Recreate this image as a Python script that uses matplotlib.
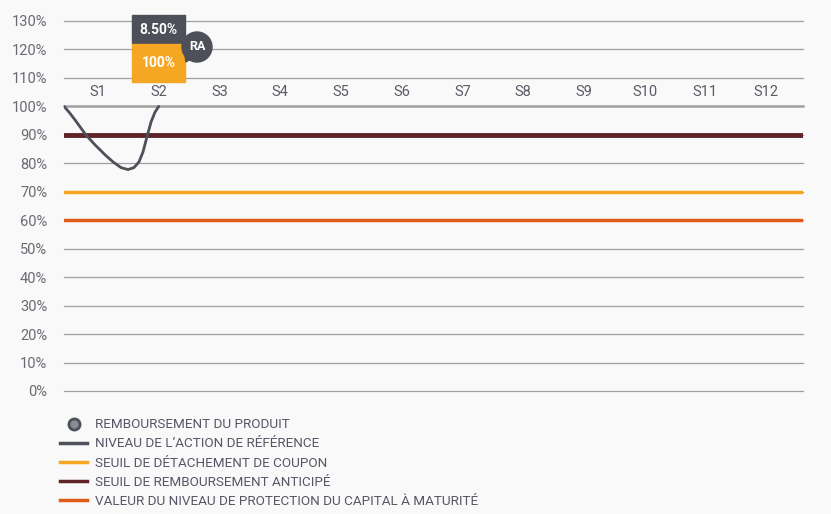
import matplotlib
matplotlib.use('Agg')
import matplotlib.pyplot as plt
from matplotlib.lines import Line2D
from matplotlib.patches import Rectangle, Circle, Polygon

plt.rcParams['font.family'] = ['Roboto', 'DejaVu Sans']

# data
periods = ['S%d' % i for i in range(1, 13)]
yticks = list(range(0, 131, 10))
ref_x = [0.44, 0.53, 0.62, 0.80, 0.95, 1.115, 1.247, 1.379, 1.494, 1.593, 1.675, 1.741, 1.815, 1.873, 1.939, 2.0]
ref_y = [100, 97.8, 95.3, 90, 86.5, 83, 80.5, 78.5, 77.8, 78.5, 80.5, 84, 90, 94.5, 98, 100]
seuil_ra = 90
seuil_coupon = 70
protection = 60
coupon_txt = '8.50%'
rembourse_txt = '100%'

bg = '#f9f9f9'
fig = plt.figure(figsize=(8.31, 5.14), dpi=100, facecolor=bg)
ax = fig.add_axes([64/831, (514-391)/514, (803-64)/831, (391-21)/514])
ax.set_facecolor(bg)
ax.set_xlim(0.44, 12.61)
ax.set_ylim(0, 130)

for v in yticks:
    ax.axhline(v, color='#a0a0a0', lw=0.9 if v != 100 else 1.8, zorder=1, clip_on=False)

ax.plot(ref_x, ref_y, color='#4d5058', lw=2, zorder=4, solid_capstyle='round',
        solid_joinstyle='round')
ax.axhline(seuil_ra, color='#5f2328', lw=3.5, zorder=3)
ax.axhline(seuil_coupon, color='#f5a623', lw=2.5, zorder=3)
ax.axhline(protection, color='#e05a1a', lw=2.5, zorder=3)

for i, p in enumerate(periods):
    ax.text(i + 1, 105, p, ha='center', va='center', fontsize=10.5, color='#5a5a66')

ax.set_yticks(yticks)
ax.set_yticklabels(['%d%%' % v for v in yticks], fontsize=10.5, color='#6a6a72')
ax.set_xticks([])
ax.tick_params(axis='y', length=0, pad=12)
for s in ax.spines.values():
    s.set_visible(False)

# annotation at S2
ax.add_patch(Rectangle((1.56, 122), 0.87, 10, color='#4d5058', clip_on=False, zorder=5))
ax.add_patch(Rectangle((1.56, 108.7), 0.87, 13.3, color='#f5a623', clip_on=False, zorder=5))
ax.text(1.995, 126.8, coupon_txt, ha='center', va='center', color='white',
        fontsize=10, fontweight='bold', zorder=6, clip_on=False)
ax.text(1.995, 115.2, rembourse_txt, ha='center', va='center', color='white',
        fontsize=10, fontweight='bold', zorder=6, clip_on=False)
circ = Circle((197, 514-47), 15, transform=None, color='#4d5058', zorder=7, clip_on=False)
fig.patches.append(circ)
fig.patches.append(Polygon([[184, 514-49], [186, 514-62], [192, 514-58]], closed=True,
                           transform=None, color='#4d5058', zorder=7))
fig.text(197/831, 1-47/514, 'RA', ha='center', va='center', color='white',
         fontsize=9, fontweight='bold', zorder=8)

handles = [
    Line2D([], [], ls='none', marker='o', ms=8, mfc='#8a8c92', mec='#4d5058', mew=2),
    Line2D([], [], color='#4d5058', lw=2.5),
    Line2D([], [], color='#f5a623', lw=2.5),
    Line2D([], [], color='#5f2328', lw=2.5),
    Line2D([], [], color='#e05a1a', lw=2.5),
]
labels = ['REMBOURSEMENT DU PRODUIT', "NIVEAU DE L\u2019ACTION DE RÉFÉRENCE",
          'SEUIL DE DÉTACHEMENT DE COUPON', 'SEUIL DE REMBOURSEMENT ANTICIPÉ',
          'VALEUR DU NIVEAU DE PROTECTION DU CAPITAL À MATURITÉ']
leg = fig.legend(handles, labels, loc='upper left', bbox_to_anchor=(55/831, 1-413/514),
                 frameon=False, fontsize=9.7, handlelength=2.0, handletextpad=0.6,
                 labelspacing=0.45, borderaxespad=0)
for t in leg.get_texts():
    t.set_color('#5a5566')

fig.savefig('out.png', dpi=100, facecolor=bg)
